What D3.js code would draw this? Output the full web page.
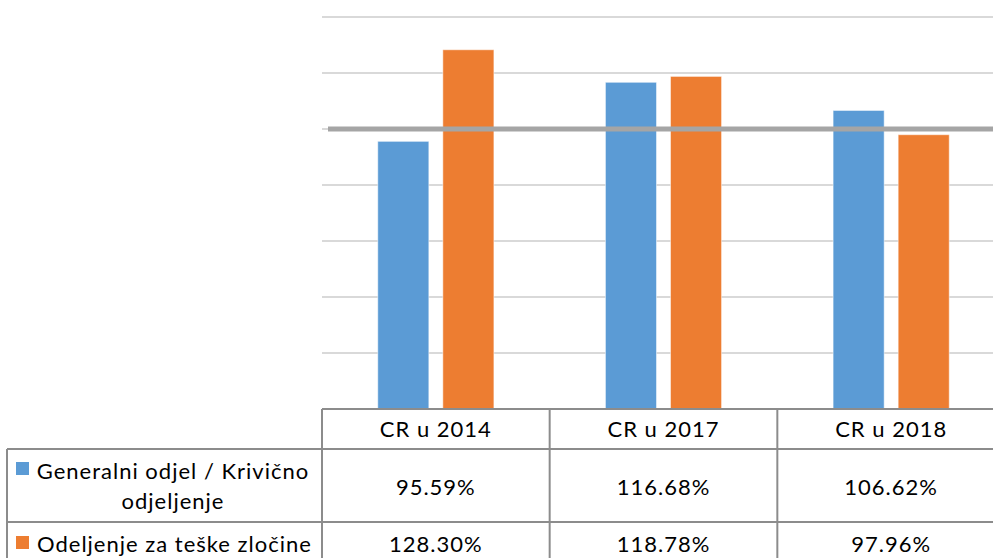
<!DOCTYPE html>
<html>
<head>
<meta charset="utf-8">
<script src="https://cdnjs.cloudflare.com/ajax/libs/d3/7.8.5/d3.min.js"></script>
<style>
  body { margin: 0; background: #fff; overflow: hidden; }
  svg text { font-family: Lato, "Open Sans", sans-serif; fill: #000; letter-spacing: 1px; }
</style>
</head>
<body>
<svg width="993" height="558"></svg>
<script>
// chart data
var categories = ["CR u 2014", "CR u 2017", "CR u 2018"];
var seriesNames = ["Generalni odjel / Krivično odjeljenje", "Odeljenje za teške zločine"];
var generalni = [95.59, 116.68, 106.62];
var teskeZlocine = [128.30, 118.78, 97.96];
var valueLabels = [["95.59%", "116.68%", "106.62%"], ["128.30%", "118.78%", "97.96%"]];
var target = 100;
var yTicks = [0, 20, 40, 60, 80, 100, 120, 140];

var colors = ["#5b9bd5", "#ed7d31"];
var series = [generalni, teskeZlocine];

var svg = d3.select("svg");

var x = d3.scaleBand()
    .domain(categories)
    .range([322, 1005])
    .padding(0);

var xs = d3.scaleBand()
    .domain([0, 1])
    .range([0, x.bandwidth()])
    .paddingInner(0.215)
    .paddingOuter(0.857);

var y = d3.scaleLinear()
    .domain([0, 140])
    .range([409, 17]);

// gridlines
svg.append("g")
    .selectAll("line")
    .data(yTicks)
    .enter().append("line")
    .attr("x1", 322)
    .attr("x2", 1005)
    .attr("y1", function (d) { return y(d); })
    .attr("y2", function (d) { return y(d); })
    .attr("stroke", "#d9d9d9")
    .attr("stroke-width", 2);

// bars
var groups = svg.append("g")
    .selectAll("g")
    .data(categories)
    .enter().append("g")
    .attr("transform", function (d) { return "translate(" + x(d) + ",0)"; });

groups.selectAll("rect")
    .data(function (d, i) {
        return series.map(function (s, k) { return { k: k, v: s[i] }; });
    })
    .enter().append("rect")
    .attr("x", function (d) { return xs(d.k); })
    .attr("width", xs.bandwidth())
    .attr("y", function (d) { return y(d.v); })
    .attr("height", function (d) { return y(0) - y(d.v); })
    .attr("fill", function (d) { return colors[d.k]; })
    .attr("stroke", "#fff")
    .attr("stroke-opacity", 0.5)
    .attr("stroke-width", 1);

// 100% line
svg.append("line")
    .attr("x1", 328)
    .attr("x2", 1005)
    .attr("y1", y(target))
    .attr("y2", y(target))
    .attr("stroke", "#a5a5a5")
    .attr("stroke-width", 5);

// data table
var rowTop = [409, 449, 522, 600];
var legendLeft = 7;
var table = svg.append("g");
var border = "#8c8c8c";

table.append("line").attr("x1", 322).attr("x2", 1005).attr("y1", rowTop[0]).attr("y2", rowTop[0]);
table.append("line").attr("x1", legendLeft).attr("x2", 1005).attr("y1", rowTop[1]).attr("y2", rowTop[1]);
table.append("line").attr("x1", legendLeft).attr("x2", 1005).attr("y1", rowTop[2]).attr("y2", rowTop[2]);
table.append("line").attr("x1", legendLeft).attr("x2", legendLeft).attr("y1", rowTop[1]).attr("y2", 600);
categories.forEach(function (c) {
    table.append("line").attr("x1", x(c)).attr("x2", x(c)).attr("y1", rowTop[0]).attr("y2", 600);
});
table.selectAll("line").attr("stroke", border).attr("stroke-width", 2);

// header
table.selectAll("text.cat")
    .data(categories)
    .enter().append("text")
    .attr("class", "cat")
    .attr("x", function (d) { return x(d) + x.bandwidth() / 2; })
    .attr("y", 437)
    .attr("text-anchor", "middle")
    .attr("font-size", 22)
    .text(function (d) { return d; });

// values
var rowBase = [495, 552];
valueLabels.forEach(function (row, k) {
    table.selectAll("text.v" + k)
        .data(row)
        .enter().append("text")
        .attr("class", "v" + k)
        .attr("x", function (d, i) { return x(categories[i]) + x.bandwidth() / 2; })
        .attr("y", rowBase[k])
        .attr("text-anchor", "middle")
        .attr("font-size", 22)
        .text(function (d) { return d; });
});

// legend keys
table.append("rect").attr("x", 16).attr("y", 462).attr("width", 13).attr("height", 13).attr("fill", colors[0]);
table.append("rect").attr("x", 16).attr("y", 536).attr("width", 13).attr("height", 13).attr("fill", colors[1]);

table.append("text").attr("x", 173).attr("y", 479).attr("text-anchor", "middle")
    .attr("font-size", 22).text("Generalni odjel / Krivično");
table.append("text").attr("x", 173).attr("y", 509).attr("text-anchor", "middle")
    .attr("font-size", 22).text("odjeljenje");
table.append("text").attr("x", 37).attr("y", 552)
    .attr("font-size", 22).text(seriesNames[1]);
</script>
</body>
</html>
